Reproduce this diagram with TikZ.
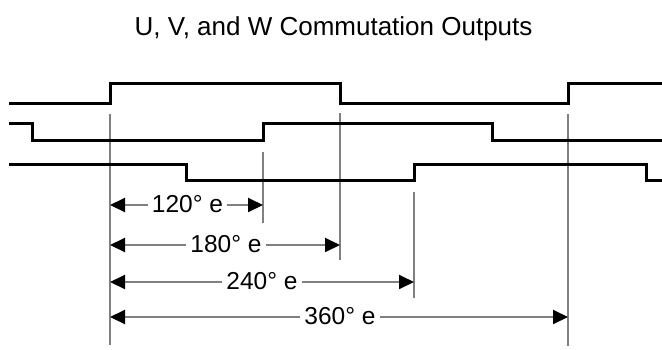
\documentclass[tikz,border=0pt]{standalone}
\usepackage{fontspec}
\setmainfont{Liberation Sans}
\usetikzlibrary{arrows.meta}
\begin{document}
\begin{tikzpicture}[x=1pt,y=-1pt,
  sig/.style={line width=3pt,black,line join=miter},
  guide/.style={line width=2pt,black!50},
  dimline/.style={line width=2pt,black!50,{Triangle[length=15pt,width=14pt,black]}-{Triangle[length=15pt,width=14pt,black]}},
  lbl/.style={fill=white,inner xsep=4pt,inner ysep=1pt,font=\fontsize{24.5}{26}\selectfont,anchor=base},
  ttl/.style={font=\fontsize{26}{30}\selectfont,anchor=base,inner sep=0pt}]
\useasboundingbox (0,0) rectangle (662,349);
\node[ttl] (title) at (333.5,35) {U, V, and W Commutation Outputs};
% guide lines
\coordinate (v0t) at (110,114); \coordinate (v0b) at (110,345);
\coordinate (v1t) at (263,152); \coordinate (v1b) at (263,223);
\coordinate (v2t) at (340,113); \coordinate (v2b) at (340,260);
\coordinate (v3t) at (414,192); \coordinate (v3b) at (414,298);
\coordinate (v4t) at (568,114); \coordinate (v4b) at (568,346);
\draw[guide] (v0t) -- (v0b);
\draw[guide] (v1t) -- (v1b);
\draw[guide] (v2t) -- (v2b);
\draw[guide] (v3t) -- (v3b);
\draw[guide] (v4t) -- (v4b);
% signals
\draw[sig] (9,103) -- (110,103) -- (110,83) -- (340,83) -- (340,103) -- (568,103) -- (568,83) -- (662,83);
\draw[sig] (9,123) -- (32,123) -- (32,140) -- (263,140) -- (263,123) -- (492,123) -- (492,140) -- (662,140);
\draw[sig] (9,164) -- (186,164) -- (186,180) -- (414,180) -- (414,164) -- (646,164) -- (646,180) -- (662,180);
% dimension arrows
\coordinate (a1l) at (110,205); \coordinate (a1r) at (263,205);
\coordinate (a2l) at (110,245); \coordinate (a2r) at (340,245);
\coordinate (a3l) at (110,282); \coordinate (a3r) at (414,282);
\coordinate (a4l) at (110,317); \coordinate (a4r) at (568,317);
\draw[dimline] (a1l) -- (a1r);
\draw[dimline] (a2l) -- (a2r);
\draw[dimline] (a3l) -- (a3r);
\draw[dimline] (a4l) -- (a4r);
\node[lbl] (l120) at (187.5,212) {120° e};
\node[lbl] (l180) at (226,252) {180° e};
\node[lbl] (l240) at (262,289) {240° e};
\node[lbl] (l360) at (340,324) {360° e};
\end{tikzpicture}
\end{document}
